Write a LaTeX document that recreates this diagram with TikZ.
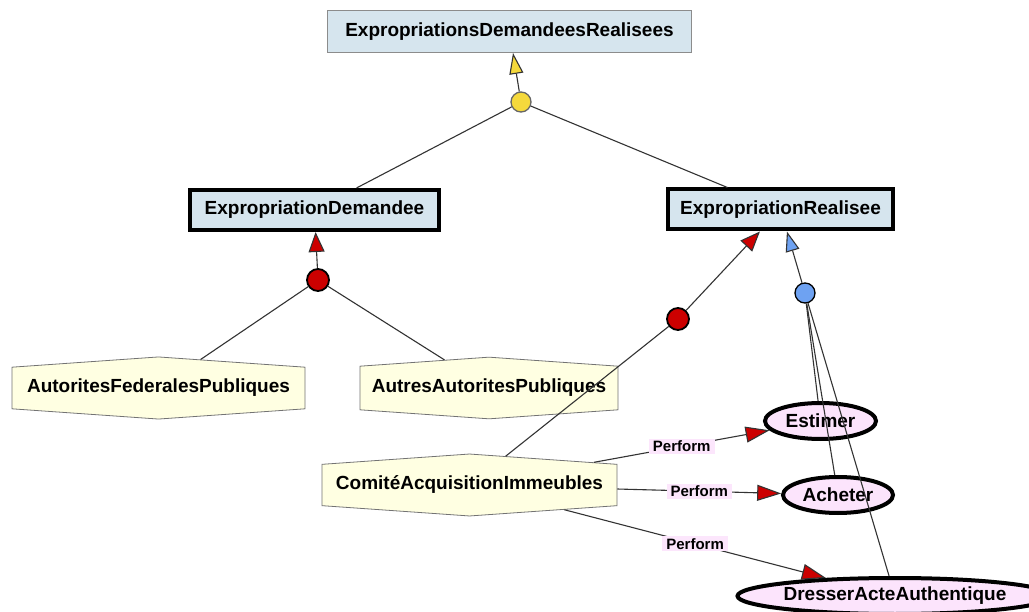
\documentclass[tikz,border=0pt]{standalone}
\usepackage{fontspec}
\setmainfont{Liberation Sans}
\usetikzlibrary{arrows.meta,shapes.geometric,shapes.symbols}

\definecolor{boxfill}{HTML}{D6E5EE}
\definecolor{hexfill}{HTML}{FFFFE2}
\definecolor{actfill}{HTML}{FCE4FC}
\definecolor{lblfill}{HTML}{FCE6FC}
\definecolor{gatered}{HTML}{CC0000}
\definecolor{gateyellow}{HTML}{F5D93C}
\definecolor{gateblue}{HTML}{6EA2F2}
\definecolor{linegray}{HTML}{333333}

\tikzset{
  txt/.style={font=\fontsize{19}{21}\selectfont\bfseries, text=black},
  topbox/.style={txt, draw=black!45, line width=1pt, fill=boxfill,
    minimum width=364pt, minimum height=42pt, inner sep=0pt},
  thickbox/.style={txt, draw=black, line width=4pt, fill=boxfill,
    minimum height=40pt, inner sep=0pt},
  rolehex/.style={txt, shape=signal, signal to=north and south,
    signal pointer angle=172, draw=black!55, line width=0.8pt, fill=hexfill,
    minimum height=60pt, inner xsep=0pt, inner ysep=0pt},
  activity/.style={txt, ellipse, draw=black, line width=4pt, fill=actfill,
    minimum height=36pt, inner sep=0pt},
  gate/.style={circle, draw=black, line width=1.3pt, minimum size=20pt, inner sep=0pt},
  conn/.style={draw=linegray, line width=1.1pt},
  redtip/.style={-{Triangle[length=20pt,width=16pt,fill=gatered]}},
  performtip/.style={-{Triangle[length=24pt,width=16pt,fill=gatered]}},
  yellowtip/.style={-{Triangle[length=21pt,width=14pt,fill=gateyellow]}},
  bluetip/.style={-{Triangle[length=20pt,width=14pt,fill=gateblue]}},
  perform/.style={font=\fontsize{15}{17}\selectfont\bfseries, text=black,
    fill=lblfill, inner xsep=4pt, inner ysep=2pt}
}

\begin{document}
\begin{tikzpicture}[x=1pt,y=-1pt]
\useasboundingbox[fill=white] (0,0) rectangle (1029,612);

% goal hierarchy
\node[topbox] (edr) at (509.5,31.5) {ExpropriationsDemandeesRealisees};
\node[thickbox, minimum width=249pt] (ed) at (314.5,210) {ExpropriationDemandee};
\node[thickbox, minimum width=225pt] (er) at (780.5,209.5) {ExpropriationRealisee};

% roles
\node[rolehex, minimum width=293pt] (afp) at (158.5,388) {AutoritesFederalesPubliques};
\node[rolehex, minimum width=258pt] (aap) at (489,388) {AutresAutoritesPubliques};
\node[rolehex, minimum width=295pt] (cai) at (469.5,485) {ComitéAcquisitionImmeubles};

% activities
\node[activity, minimum width=111pt] (est) at (820.5,421) {Estimer};
\node[activity, minimum width=110pt] (ach) at (838,495) {Acheter};
\node[activity, minimum width=262pt] (dre) at (895,596) {DresserActeAuthentique};

% decomposition gates
\node[gate, fill=gateyellow, draw=black!60] (gy) at (521,102) {};
\node[gate, fill=gatered, minimum size=22pt, line width=1.8pt] (gr1) at (318,280) {};
\node[gate, fill=gatered, minimum size=22pt, line width=1.8pt] (gr2) at (678,319) {};
\node[gate, fill=gateblue] (gb) at (805,293) {};

% links
\draw[conn, yellowtip] (gy) -- (edr);
\draw[conn] (gy) -- (ed);
\draw[conn] (gy) -- (er);

\draw[conn, redtip] (gr1) -- (ed);
\draw[conn] (gr1) -- (afp);
\draw[conn] (gr1) -- (aap);

\draw[conn, redtip] (gr2) -- (er);
\draw[conn] (gr2) -- (cai);

\draw[conn, bluetip] (gb) -- (er);
\draw[conn] (gb) -- (est);
\draw[conn] (gb) -- (ach);
\draw[conn] (gb) -- (dre);

% performs
\draw[conn, performtip] (cai) -- node[perform] {Perform} (est);
\draw[conn, performtip] (cai) -- node[perform] {Perform} (ach);
\draw[conn, performtip] (cai) -- node[perform] {Perform} (dre);
\end{tikzpicture}
\end{document}
